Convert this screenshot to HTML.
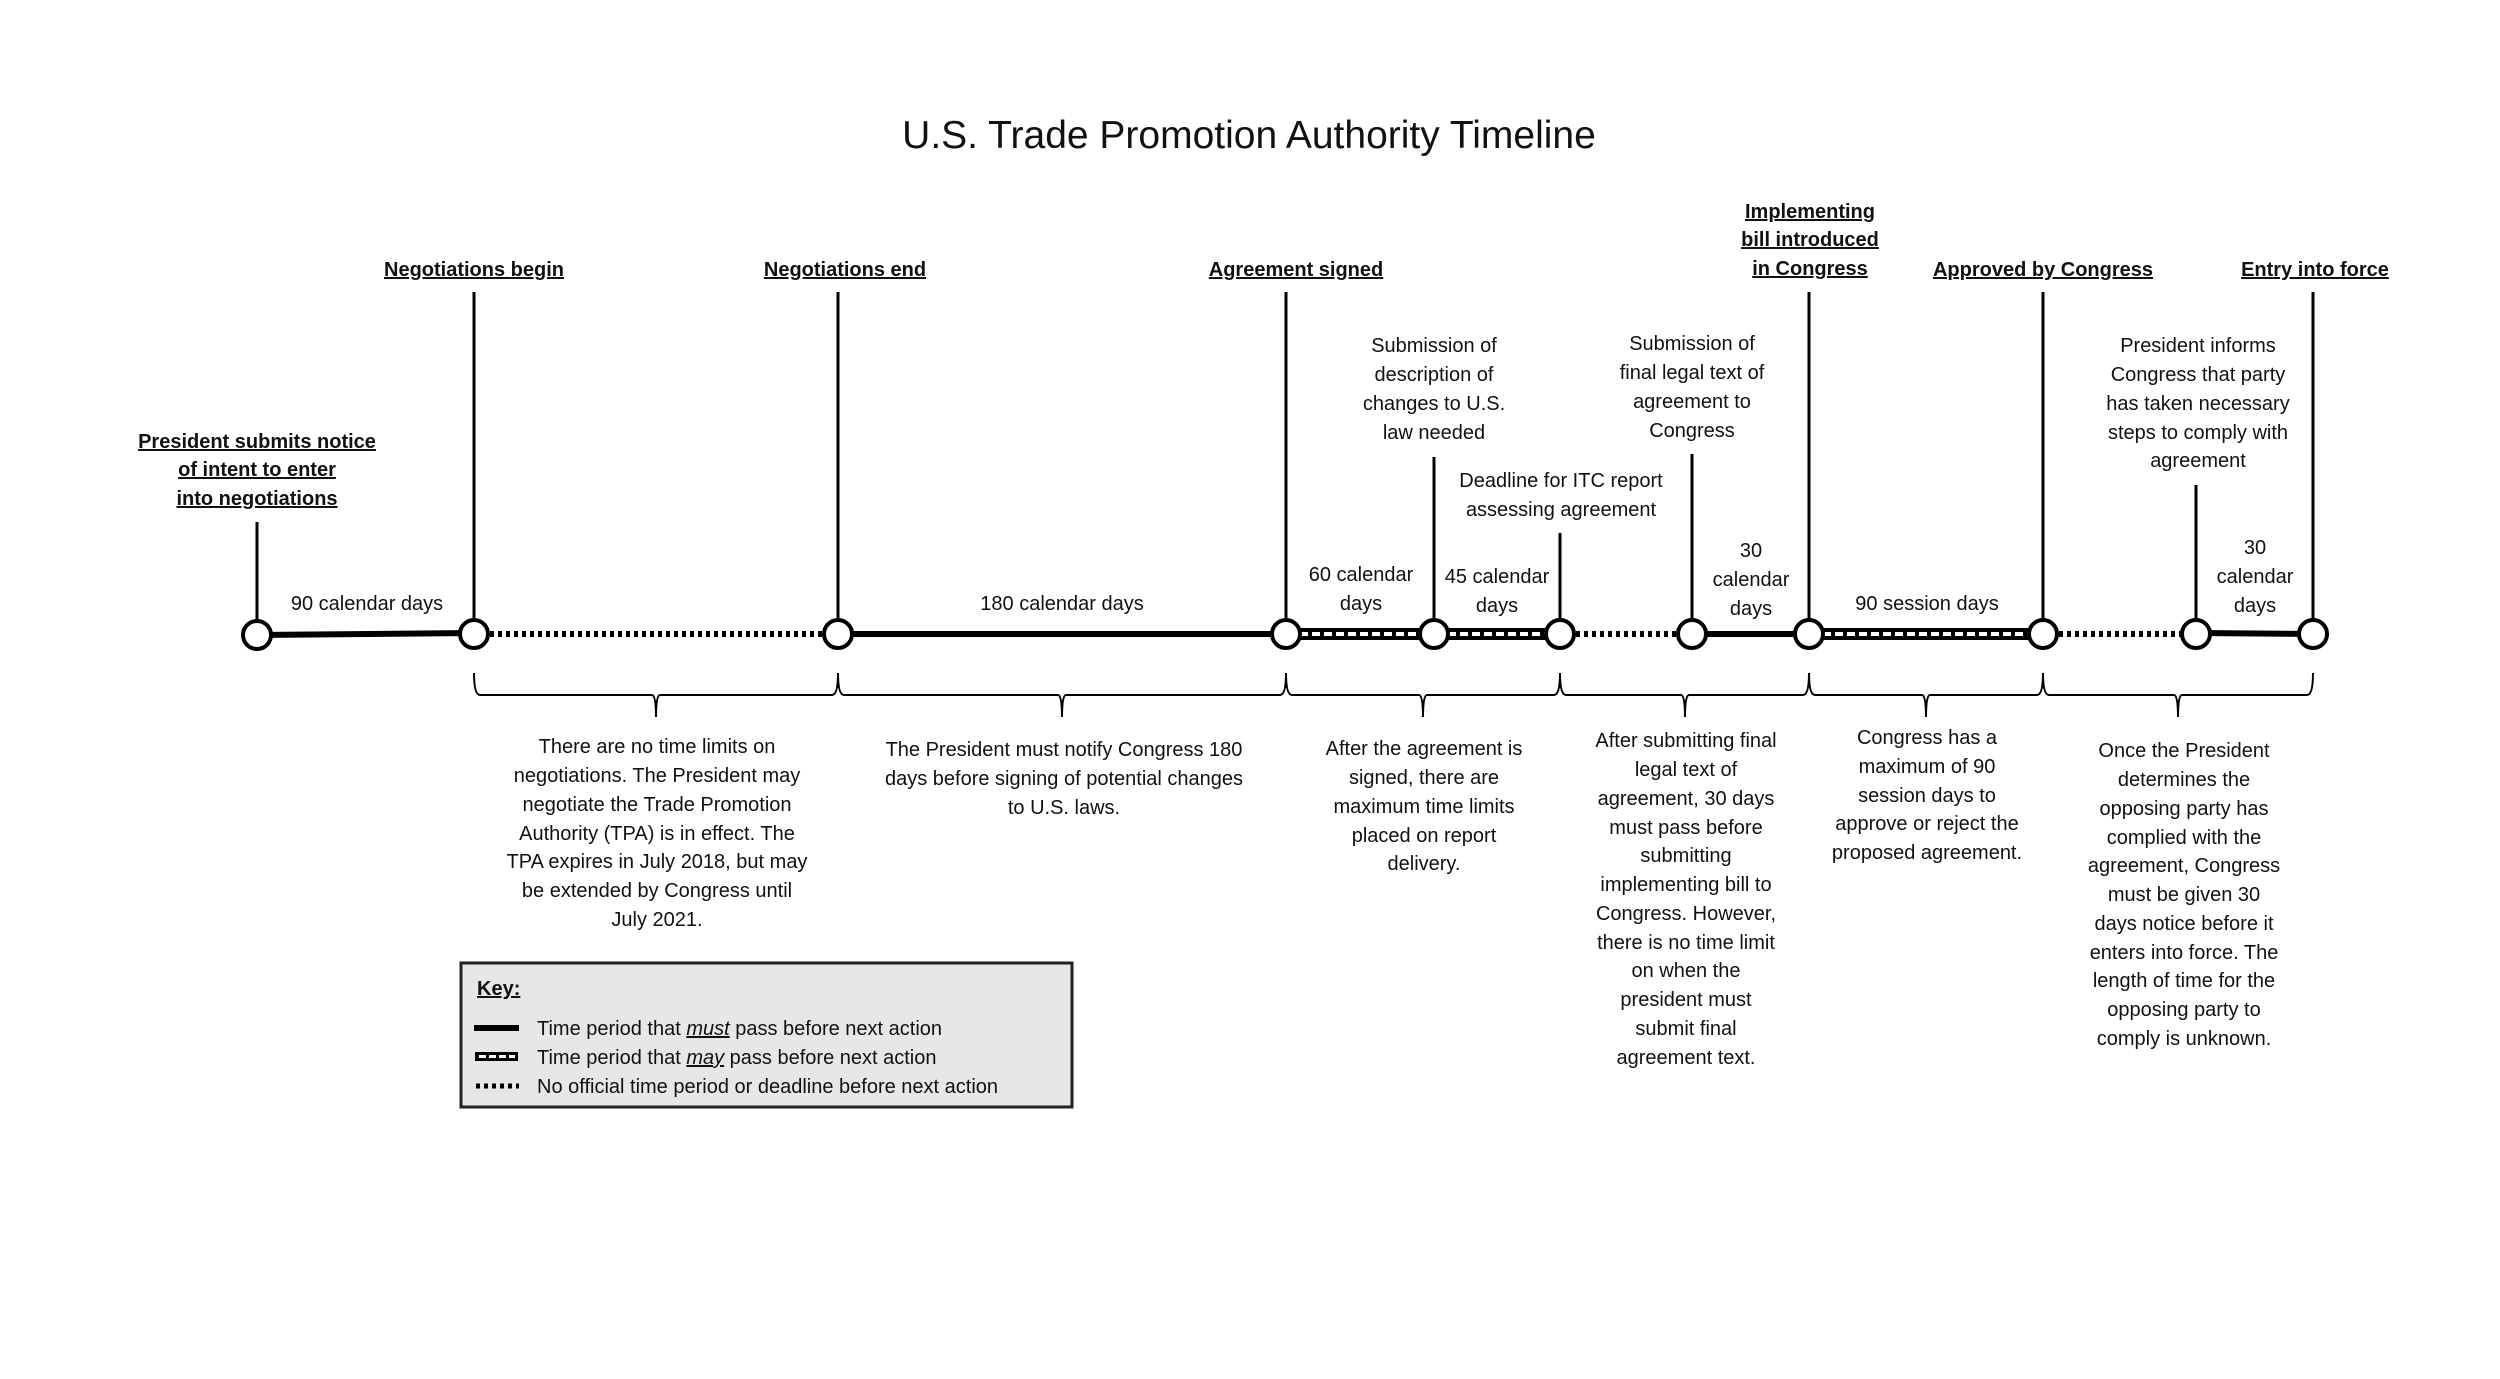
<!DOCTYPE html>
<html><head><meta charset="utf-8"><style>
html,body{margin:0;padding:0;background:#fff}
svg{display:block}
text{font-family:"Liberation Sans",sans-serif;font-size:20px;fill:#111}
.b{font-weight:bold;font-size:20px;text-decoration:underline}
</style></head><body>
<svg width="2500" height="1379" viewBox="0 0 2500 1379" xmlns="http://www.w3.org/2000/svg">
<text x="1249" y="148" text-anchor="middle" style="font-size:39px">U.S. Trade Promotion Authority Timeline</text>

<g stroke="#000" stroke-width="3">
<line x1="257" y1="522" x2="257" y2="634"/>
<line x1="474" y1="292" x2="474" y2="634"/>
<line x1="838" y1="292" x2="838" y2="634"/>
<line x1="1286" y1="292" x2="1286" y2="634"/>
<line x1="1434" y1="457" x2="1434" y2="634"/>
<line x1="1560" y1="533" x2="1560" y2="634"/>
<line x1="1692" y1="454" x2="1692" y2="634"/>
<line x1="1809" y1="292" x2="1809" y2="634"/>
<line x1="2043" y1="292" x2="2043" y2="634"/>
<line x1="2196" y1="485" x2="2196" y2="634"/>
<line x1="2313" y1="292" x2="2313" y2="634"/>
</g>

<g stroke="#000">
<line x1="257" y1="635" x2="474" y2="633" stroke-width="6"/>
<line x1="474" y1="634" x2="838" y2="634" stroke-width="6" stroke-dasharray="4 4"/>
<line x1="838" y1="634" x2="1286" y2="634" stroke-width="6"/>
<line x1="1286" y1="634" x2="1434" y2="634" stroke-width="12"/>
<line x1="1434" y1="634" x2="1560" y2="634" stroke-width="12"/>
<line x1="1560" y1="634" x2="1692" y2="634" stroke-width="6" stroke-dasharray="4 4"/>
<line x1="1692" y1="634" x2="1809" y2="634" stroke-width="6"/>
<line x1="1809" y1="634" x2="2043" y2="634" stroke-width="12"/>
<line x1="2043" y1="634" x2="2196" y2="634" stroke-width="6" stroke-dasharray="4 4"/>
<line x1="2196" y1="633" x2="2313" y2="634" stroke-width="6"/>
</g>
<g stroke="#fff" stroke-width="4" stroke-dasharray="8 4">
<line x1="1300" y1="634" x2="1420" y2="634"/>
<line x1="1448" y1="634" x2="1546" y2="634"/>
<line x1="1823" y1="634" x2="2029" y2="634"/>
</g>

<g fill="#fff" stroke="#000" stroke-width="4">
<circle cx="257" cy="635" r="14"/><circle cx="474" cy="634" r="14"/><circle cx="838" cy="634" r="14"/>
<circle cx="1286" cy="634" r="14"/><circle cx="1434" cy="634" r="14"/><circle cx="1560" cy="634" r="14"/>
<circle cx="1692" cy="634" r="14"/><circle cx="1809" cy="634" r="14"/><circle cx="2043" cy="634" r="14"/>
<circle cx="2196" cy="634" r="14"/><circle cx="2313" cy="634" r="14"/>
</g>

<g fill="none" stroke="#000" stroke-width="2">
<path d="M474 673 Q474 695 480 695 L652 695 Q656 695 656 717 Q656 695 660 695 L832 695 Q838 695 838 673"/>
<path d="M838 673 Q838 695 844 695 L1058 695 Q1062 695 1062 717 Q1062 695 1066 695 L1280 695 Q1286 695 1286 673"/>
<path d="M1286 673 Q1286 695 1292 695 L1419 695 Q1423 695 1423 717 Q1423 695 1427 695 L1554 695 Q1560 695 1560 673"/>
<path d="M1560 673 Q1560 695 1566 695 L1681 695 Q1685 695 1685 717 Q1685 695 1689 695 L1803 695 Q1809 695 1809 673"/>
<path d="M1809 673 Q1809 695 1815 695 L1922 695 Q1926 695 1926 717 Q1926 695 1930 695 L2037 695 Q2043 695 2043 673"/>
<path d="M2043 673 Q2043 695 2049 695 L2174 695 Q2178 695 2178 717 Q2178 695 2182 695 L2307 695 Q2313 695 2313 673"/>
</g>

<g text-anchor="middle">
<text class="b" x="474" y="276">Negotiations begin</text>
<text class="b" x="845" y="276">Negotiations end</text>
<text class="b" x="1296" y="276">Agreement signed</text>
<text class="b" x="1810" y="218">Implementing</text>
<text class="b" x="1810" y="246">bill introduced</text>
<text class="b" x="1810" y="275">in Congress</text>
<text class="b" x="2043" y="276">Approved by Congress</text>
<text class="b" x="2315" y="276">Entry into force</text>
<text class="b" x="257" y="448">President submits notice</text>
<text class="b" x="257" y="476">of intent to enter</text>
<text class="b" x="257" y="505">into negotiations</text>

<text x="1434" y="352">Submission of</text>
<text x="1434" y="381">description of</text>
<text x="1434" y="410">changes to U.S.</text>
<text x="1434" y="439">law needed</text>
<text x="1561" y="487">Deadline for ITC report</text>
<text x="1561" y="516">assessing agreement</text>
<text x="1692" y="350">Submission of</text>
<text x="1692" y="379">final legal text of</text>
<text x="1692" y="408">agreement to</text>
<text x="1692" y="437">Congress</text>
<text x="2198" y="352">President informs</text>
<text x="2198" y="381">Congress that party</text>
<text x="2198" y="410">has taken necessary</text>
<text x="2198" y="439">steps to comply with</text>
<text x="2198" y="467">agreement</text>

<text x="367" y="610">90 calendar days</text>
<text x="1062" y="610">180 calendar days</text>
<text x="1361" y="581">60 calendar</text>
<text x="1361" y="610">days</text>
<text x="1497" y="583">45 calendar</text>
<text x="1497" y="612">days</text>
<text x="1751" y="557">30</text>
<text x="1751" y="586">calendar</text>
<text x="1751" y="615">days</text>
<text x="1927" y="610">90 session days</text>
<text x="2255" y="554">30</text>
<text x="2255" y="583">calendar</text>
<text x="2255" y="612">days</text>

<text x="657" y="753">There are no time limits on</text>
<text x="657" y="782">negotiations. The President may</text>
<text x="657" y="811">negotiate the Trade Promotion</text>
<text x="657" y="840">Authority (TPA) is in effect. The</text>
<text x="657" y="868">TPA expires in July 2018, but may</text>
<text x="657" y="897">be extended by Congress until</text>
<text x="657" y="926">July 2021.</text>

<text x="1064" y="756">The President must notify Congress 180</text>
<text x="1064" y="785">days before signing of potential changes</text>
<text x="1064" y="814">to U.S. laws.</text>

<text x="1424" y="755">After the agreement is</text>
<text x="1424" y="784">signed, there are</text>
<text x="1424" y="813">maximum time limits</text>
<text x="1424" y="842">placed on report</text>
<text x="1424" y="870">delivery.</text>

<text x="1686" y="747">After submitting final</text>
<text x="1686" y="776">legal text of</text>
<text x="1686" y="805">agreement, 30 days</text>
<text x="1686" y="834">must pass before</text>
<text x="1686" y="862">submitting</text>
<text x="1686" y="891">implementing bill to</text>
<text x="1686" y="920">Congress. However,</text>
<text x="1686" y="949">there is no time limit</text>
<text x="1686" y="977">on when the</text>
<text x="1686" y="1006">president must</text>
<text x="1686" y="1035">submit final</text>
<text x="1686" y="1064">agreement text.</text>

<text x="1927" y="744">Congress has a</text>
<text x="1927" y="773">maximum of 90</text>
<text x="1927" y="802">session days to</text>
<text x="1927" y="830">approve or reject the</text>
<text x="1927" y="859">proposed agreement.</text>

<text x="2184" y="757">Once the President</text>
<text x="2184" y="786">determines the</text>
<text x="2184" y="815">opposing party has</text>
<text x="2184" y="844">complied with the</text>
<text x="2184" y="872">agreement, Congress</text>
<text x="2184" y="901">must be given 30</text>
<text x="2184" y="930">days notice before it</text>
<text x="2184" y="959">enters into force. The</text>
<text x="2184" y="987">length of time for the</text>
<text x="2184" y="1016">opposing party to</text>
<text x="2184" y="1045">comply is unknown.</text>
</g>

<rect x="461" y="963" width="611" height="144" fill="#e7e7e8" stroke="#222" stroke-width="3"/>
<text class="b" x="477" y="995">Key:</text>
<line x1="474" y1="1028" x2="519" y2="1028" stroke="#000" stroke-width="6"/>
<rect x="475" y="1052" width="43" height="9" fill="#000"/>
<line x1="479" y1="1056.5" x2="515" y2="1056.5" stroke="#fff" stroke-width="3" stroke-dasharray="7 3"/>
<line x1="476" y1="1086" x2="519" y2="1086" stroke="#000" stroke-width="5" stroke-dasharray="4 4"/>
<text x="537" y="1035">Time period that <tspan font-style="italic" text-decoration="underline">must</tspan> pass before next action</text>
<text x="537" y="1064">Time period that <tspan font-style="italic" text-decoration="underline">may</tspan> pass before next action</text>
<text x="537" y="1093">No official time period or deadline before next action</text>
</svg>
</body></html>
